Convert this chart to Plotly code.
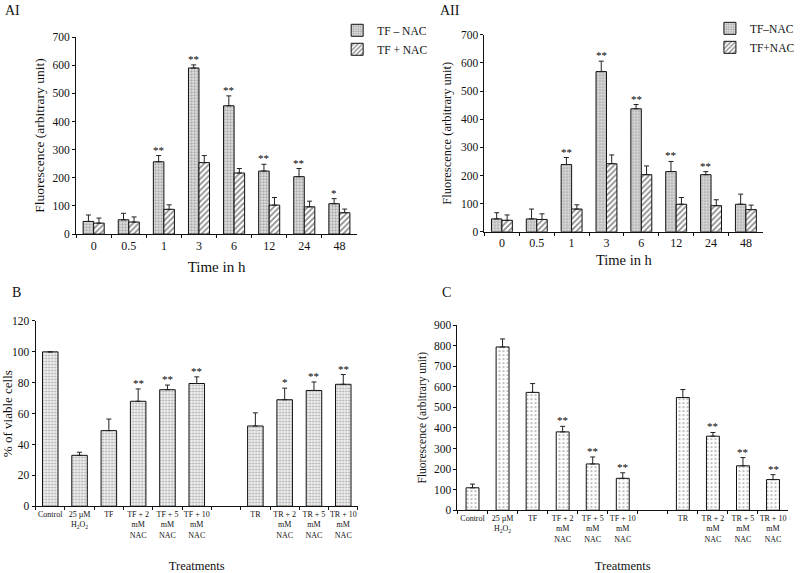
import plotly.graph_objects as go

W, H = 800, 573

# ---------------- data ----------------
times = ["0", "0.5", "1", "3", "6", "12", "24", "48"]

ai_minus = [45, 51, 257, 590, 456, 224, 204, 108]
ai_minus_err = [23, 23, 22, 11, 35, 24, 29, 18]
ai_plus = [39, 43, 88, 254, 217, 103, 97, 76]
ai_plus_err = [18, 18, 16, 25, 16, 27, 20, 13]
ai_stars = ["", "", "**", "**", "**", "**", "**", "*"]

aii_minus = [46, 46, 239, 569, 437, 214, 203, 98]
aii_minus_err = [22, 35, 25, 37, 15, 36, 11, 36]
aii_plus = [41, 44, 81, 242, 203, 98, 93, 79]
aii_plus_err = [19, 20, 15, 31, 31, 24, 21, 16]
aii_stars = ["", "", "**", "**", "**", "**", "**", ""]

treat_labels = ["Control", "25 µM<br>H<sub>2</sub>O<sub>2</sub>", "TF", "TF + 2<br>mM<br>NAC",
                "TF + 5<br>mM<br>NAC", "TF + 10<br>mM<br>NAC", " ", "TR",
                "TR + 2<br>mM<br>NAC", "TR + 5<br>mM<br>NAC", "TR + 10<br>mM<br>NAC"]

b_vals = [100, 33, 49, 68, 75.5, 79.5, None, 52, 69, 75, 79]
b_err = [0, 2, 7.5, 8, 3, 4.3, None, 8.5, 7.5, 5.5, 6.3]
b_stars = ["", "", "", "**", "**", "**", "", "", "*", "**", "**"]

c_vals = [109, 794, 573, 381, 225, 155, None, 548, 360, 216, 149]
c_err = [18, 39, 43, 27, 34, 27, None, 39, 18, 40, 24]
c_stars = ["", "", "", "**", "**", "**", "", "", "**", "**", "**"]

# ---------------- style ----------------
FONT = "Liberation Serif"
pat_minus = dict(shape=".", size=3, solidity=0.45, fgcolor="#6a6a6a", bgcolor="#e4e4e4")
pat_plus = dict(shape="/", size=4, solidity=0.42, fgcolor="#111111", bgcolor="#ffffff")
pat_b = dict(shape=".", size=3, solidity=0.3, fgcolor="#555555", bgcolor="#f2f2f2")
pat_c = dict(shape=".", size=4, solidity=0.2, fgcolor="#555555", bgcolor="#ffffff")
line = dict(color="#111111", width=1)


def err(arr):
    return dict(type="data", array=arr, symmetric=False,
                arrayminus=[0 if v is not None else None for v in arr],
                color="#222222", thickness=1, width=2.5)


fig = go.Figure()

fig.add_trace(go.Bar(x=times, y=ai_minus, name="TF – NAC", marker=dict(pattern=pat_minus, line=line),
                     error_y=err(ai_minus_err), xaxis="x", yaxis="y", legend="legend"))
fig.add_trace(go.Bar(x=times, y=ai_plus, name="TF + NAC", marker=dict(pattern=pat_plus, line=line),
                     error_y=err(ai_plus_err), xaxis="x", yaxis="y", legend="legend"))
fig.add_trace(go.Bar(x=times, y=aii_minus, name="TF–NAC", marker=dict(pattern=pat_minus, line=line),
                     error_y=err(aii_minus_err), xaxis="x2", yaxis="y2", legend="legend2"))
fig.add_trace(go.Bar(x=times, y=aii_plus, name="TF+NAC", marker=dict(pattern=pat_plus, line=line),
                     error_y=err(aii_plus_err), xaxis="x2", yaxis="y2", legend="legend2"))
fig.add_trace(go.Bar(x=treat_labels, y=b_vals, marker=dict(pattern=pat_b, line=line), width=0.53,
                     error_y=err(b_err), xaxis="x3", yaxis="y3", showlegend=False))
fig.add_trace(go.Bar(x=treat_labels, y=c_vals, marker=dict(pattern=pat_c, line=line), width=0.43,
                     error_y=err(c_err), xaxis="x4", yaxis="y4", showlegend=False))

# panel domains in pixels: (x0, x1), (ytop, ybottom)
dom = {
    "AI": ((77, 361), (31.7, 233)),
    "AII": ((490, 772), (29.3, 230.7)),
    "B": ((36, 362), (321.7, 511)),
    "C": ((462.7, 797), (326, 515)),
}


def xd(k):
    a, b = dom[k][0]
    return [a / W, b / W]


def yd(k):
    t, b = dom[k][1]
    return [1 - b / H, 1 - t / H]


tickfont = dict(family=FONT, size=11.5, color="#111")
common_x = dict(showline=True, linecolor="#111", linewidth=1, ticks="outside", ticklen=3,
                tickcolor="#111", type="category", tickson="boundaries", tickangle=0,
                showgrid=False, zeroline=False, fixedrange=True)
common_y = dict(showline=True, linecolor="#111", linewidth=1, ticks="outside", ticklen=3,
                tickcolor="#111", showgrid=False, zeroline=False, tickfont=tickfont)

annotations = []


def stars(xref, yref, vals, errs, marks, shift):
    for i, (v, e, m) in enumerate(zip(vals, errs, marks)):
        if m and v is not None:
            annotations.append(dict(x=i, y=v + e, xref=xref, yref=yref, text=m, showarrow=False,
                                    yanchor="bottom", yshift=-2, xshift=shift,
                                    font=dict(family=FONT, size=11, color="#000")))


slot_ai = (dom["AI"][0][1] - dom["AI"][0][0]) / len(times)
slot_aii = (dom["AII"][0][1] - dom["AII"][0][0]) / len(times)
stars("x", "y", ai_minus, ai_minus_err, ai_stars, -0.15 * slot_ai)
stars("x2", "y2", aii_minus, aii_minus_err, aii_stars, -0.15 * slot_aii)
stars("x3", "y3", b_vals, b_err, b_stars, 0)
stars("x4", "y4", c_vals, c_err, c_stars, 0)

for txt, px, py in [("AI", 3, 5), ("AII", 443, 5), ("B", 10, 293), ("C", 445, 293)]:
    annotations.append(dict(text=txt, x=px / W, y=1 - py / H, xref="paper", yref="paper",
                            xanchor="left", yanchor="middle", showarrow=False,
                            font=dict(family=FONT, size=14, color="#111")))

n_t = len(times)
n_c = len(treat_labels)

fig.update_layout(
    width=W, height=H, margin=dict(l=0, r=0, t=0, b=0),
    paper_bgcolor="white", plot_bgcolor="white",
    font=dict(family=FONT, color="#111"),
    barmode="group", bargap=0.4, bargroupgap=0,
    xaxis=dict(common_x, domain=xd("AI"), anchor="y", range=[-0.5, n_t - 0.5],
               tickfont=dict(family=FONT, size=12),
               title=dict(text="Time in h", font=dict(family=FONT, size=15), standoff=9)),
    yaxis=dict(common_y, domain=yd("AI"), anchor="x", range=[0, 700], dtick=100,
               title=dict(text="Fluorescence (arbitrary unit)", font=dict(family=FONT, size=13.5), standoff=4)),
    xaxis2=dict(common_x, domain=xd("AII"), anchor="y2", range=[-0.5, n_t - 0.5],
                tickfont=dict(family=FONT, size=12),
                title=dict(text="Time in h", font=dict(family=FONT, size=14.5), standoff=5)),
    yaxis2=dict(common_y, domain=yd("AII"), anchor="x2", range=[0, 700], dtick=100,
                title=dict(text="Fluorescence (arbitrary unit)", font=dict(family=FONT, size=12.5), standoff=6)),
    xaxis3=dict(common_x, domain=xd("B"), anchor="y3", range=[-0.5, n_c - 0.5],
                tickfont=dict(family=FONT, size=8),
                categoryorder="array", categoryarray=treat_labels,
                title=dict(text="Treatments", font=dict(family=FONT, size=12.5), standoff=22)),
    yaxis3=dict(common_y, domain=yd("B"), anchor="x3", range=[0, 120], dtick=20,
                title=dict(text="% of viable cells", font=dict(family=FONT, size=13), standoff=2)),
    xaxis4=dict(common_x, domain=xd("C"), anchor="y4", range=[-0.5, n_c - 0.5],
                tickfont=dict(family=FONT, size=8),
                categoryorder="array", categoryarray=treat_labels,
                title=dict(text="Treatments", font=dict(family=FONT, size=12.5), standoff=19)),
    yaxis4=dict(common_y, domain=yd("C"), anchor="x4", range=[0, 900], dtick=100,
                title=dict(text="Fluorescence (arbitrary unit)", font=dict(family=FONT, size=11.5), standoff=4)),
    legend=dict(x=341 / W, y=1 - 10 / H, xanchor="left", yanchor="top", bgcolor="rgba(0,0,0,0)",
                font=dict(family=FONT, size=11.5), itemwidth=30, tracegroupgap=0),
    legend2=dict(x=718 / W, y=1 - 8 / H, xanchor="left", yanchor="top", bgcolor="rgba(0,0,0,0)",
                 font=dict(family=FONT, size=11.5), itemwidth=30, tracegroupgap=0),
    annotations=annotations,
)

fig.write_html("out.html", config={"displayModeBar": False},
               post_script="document.body.style.margin='0';")
